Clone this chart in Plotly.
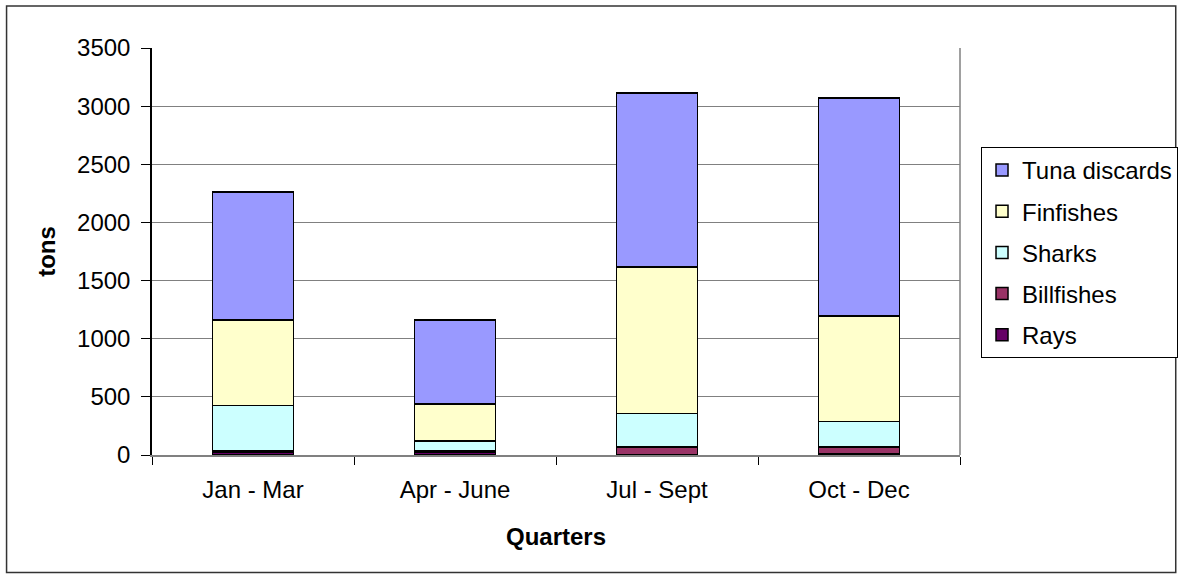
import plotly.graph_objects as go

quarters = ["Jan - Mar", "Apr - June", "Jul - Sept", "Oct - Dec"]
rays = [20, 25, 5, 15]
billfishes = [15, 15, 64, 54]
sharks = [389, 80, 286, 221]
finfishes = [737, 319, 1262, 905]
tuna_discards = [1100, 722, 1496, 1875]

# bottom of the stack first; legendrank puts Tuna at the top of the legend
series = [
    ("Rays", rays, "#660066", 5),
    ("Billfishes", billfishes, "#993366", 4),
    ("Sharks", sharks, "#CCFFFF", 3),
    ("Finfishes", finfishes, "#FFFFCC", 2),
    ("Tuna discards", tuna_discards, "#9999FF", 1),
]

fig = go.Figure()
for name, vals, color, rank in series:
    fig.add_trace(go.Bar(
        x=quarters, y=vals, name=name, legendgroup=name, legendrank=rank,
        marker=dict(color=color, line=dict(color="black", width=1.5)),
        width=0.4,
    ))

font = dict(family="Liberation Sans, Arial", size=24, color="black")

fig.update_layout(
    barmode="stack",
    width=1181, height=578,
    margin=dict(l=152, r=221, t=48, b=123, autoexpand=False),
    paper_bgcolor="white", plot_bgcolor="white",
    font=font,
    showlegend=True,
    legend=dict(
        x=1.026, y=0.757, xanchor="left", yanchor="top",
        traceorder="grouped", tracegroupgap=7,
        bordercolor="black", borderwidth=1,
        font=dict(family="Liberation Sans, Arial", size=24),
    ),
    shapes=[
        # plot area right edge
        dict(type="line", xref="paper", yref="paper", x0=1, x1=1, y0=0, y1=1,
             line=dict(color="#808080", width=1.5)),
        # chart border
        dict(type="rect", xref="paper", yref="paper",
             x0=-0.180, x1=1.267, y0=-0.289, y1=1.103,
             line=dict(color="#333333", width=1.5)),
    ],
)

fig.update_xaxes(
    showline=True, linecolor="#808080", linewidth=1.5,
    ticks="outside", tickson="boundaries", ticklen=8, tickcolor="black",
    tickfont=dict(size=24), ticklabelstandoff=12,
    title=dict(text="<b>Quarters</b>", font=dict(size=24), standoff=27),
)
fig.update_yaxes(
    range=[0, 3500], dtick=500,
    showline=True, linecolor="black", linewidth=1.5,
    ticks="outside", ticklen=9, tickcolor="black",
    showgrid=True, gridcolor="#808080", gridwidth=1,
    tickfont=dict(size=24), ticklabelstandoff=6,
    title=dict(text="<b>tons</b>", font=dict(size=24), standoff=15),
)

fig.write_html("out.html", config={"displayModeBar": False},
               post_script="document.body.style.margin='0';")
